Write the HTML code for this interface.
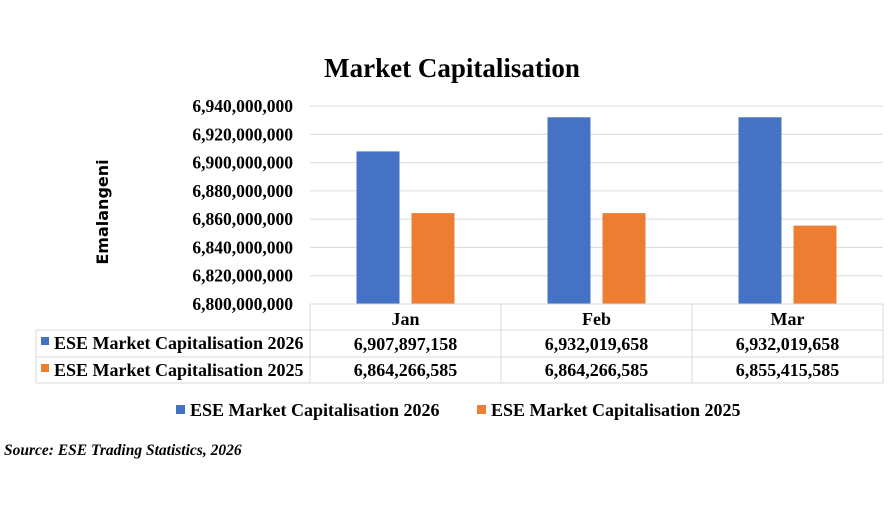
<!DOCTYPE html>
<html><head><meta charset="utf-8"><style>
body{margin:0;background:#fff;}
svg text{font-family:"Liberation Serif",serif;font-weight:bold;fill:#000;}
</style></head><body>
<svg width="893" height="502" id="c">
<text x="452" y="77" font-size="27" text-anchor="middle">Market Capitalisation</text>
<text transform="translate(108,212) rotate(-90)" font-size="16" text-anchor="middle" style="font-family:'DejaVu Sans',sans-serif">Emalangeni</text>
<text x="4" y="455" font-size="15.5" font-style="italic">Source: ESE Trading Statistics, 2026</text>
<g id="g"></g>
</svg>
<script>
const categories=["Jan","Feb","Mar"];
const series2026=[6907897158,6932019658,6932019658];
const series2025=[6864266585,6864266585,6855415585];
const labels2026=["6,907,897,158","6,932,019,658","6,932,019,658"];
const labels2025=["6,864,266,585","6,864,266,585","6,855,415,585"];
const yTicks=[6800000000,6820000000,6840000000,6860000000,6880000000,6900000000,6920000000,6940000000];
const seriesNames=["ESE Market Capitalisation 2026","ESE Market Capitalisation 2025"];
const colors=["#4472C4","#ED7D31"];
const NS="http://www.w3.org/2000/svg",g=document.getElementById('g');
const L=310,R=883,T=106,B=304,yMin=6800000000,yMax=6940000000;
const y=v=>B-(v-yMin)/(yMax-yMin)*(B-T);
const cw=(R-L)/categories.length;
const x=i=>L+cw*(i+0.5);
function mk(t,a,txt){const e=document.createElementNS(NS,t);for(const k in a)e.setAttribute(k,a[k]);if(txt!=null)e.textContent=txt;g.appendChild(e);return e;}
yTicks.forEach(v=>{
 const l=mk('line',{x1:L,x2:R,y1:y(v),y2:y(v),stroke:'#d9d9d9','stroke-width':1});
 
 
 const t=mk('text',{x:293,y:y(v)+6,'font-size':17.5,'text-anchor':'end'},v.toLocaleString('en-US'));
 
 
});
const bw=43,gap=12;
categories.forEach((c,i)=>{
 [series2026,series2025].forEach((s,j)=>{
  const bx=x(i)-gap/2-bw+j*(bw+gap);
  const r=mk('rect',{x:bx,y:y(s[i]),width:bw,height:B-y(s[i]),fill:colors[j]});
  
  
 });
});
const rows=[304,330,357,383],TL=36;
const st={stroke:'#d9d9d9','stroke-width':1};
mk('line',Object.assign({x1:L,x2:R,y1:rows[0],y2:rows[0]},st));
[1,2,3].forEach(k=>mk('line',Object.assign({x1:TL,x2:R,y1:rows[k],y2:rows[k]},st)));
mk('line',Object.assign({x1:TL,x2:TL,y1:rows[1],y2:rows[3]},st));
for(let i=0;i<=categories.length;i++)mk('line',Object.assign({x1:L+cw*i,x2:L+cw*i,y1:rows[0],y2:rows[3]},st));
categories.forEach((c,i)=>{
 const t=mk('text',{x:x(i),y:325,'font-size':18,'text-anchor':'middle'},c);
 
 
 const a=mk('text',{x:x(i),y:350,'font-size':18,'text-anchor':'middle'},labels2026[i]);
 
 
 const b=mk('text',{x:x(i),y:376,'font-size':18,'text-anchor':'middle'},labels2025[i]);
 
 
});
seriesNames.forEach((n,j)=>{
 const yy=[343,370][j];
 mk('rect',{x:41,y:yy-6,width:8,height:8,fill:colors[j]});
 const t=mk('text',{x:54,y:yy+6,'font-size':18},n);
 
 
});
[[176,190],[477,491]].forEach((p,j)=>{
 const r=mk('rect',{x:p[0],y:405,width:9,height:9,fill:colors[j]});
 
 
 const t=mk('text',{x:p[1],y:416,'font-size':18},seriesNames[j]);
 
 
});
</script>
</body></html>
